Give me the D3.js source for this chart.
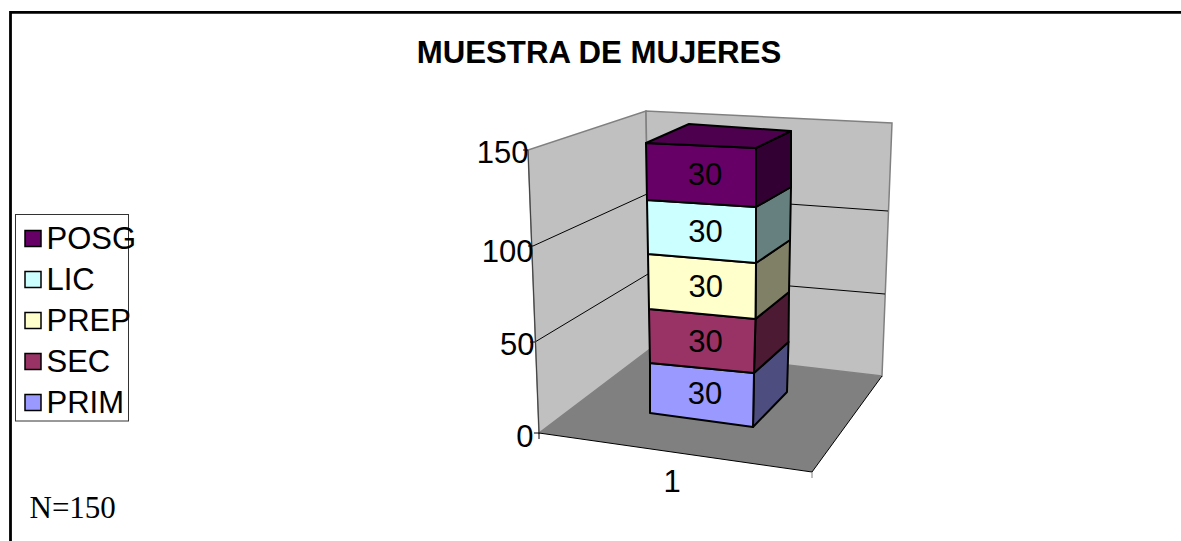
<!DOCTYPE html>
<html>
<head>
<meta charset="utf-8">
<title>Muestra de mujeres</title>
<script src="https://cdnjs.cloudflare.com/ajax/libs/d3/7.8.5/d3.min.js"></script>
<style>
  html, body { margin: 0; padding: 0; background: #fff; }
  svg { display: block; }
  text { font-family: "Liberation Sans", Arial, sans-serif; fill: #000; }
</style>
</head>
<body>
<svg id="chart" width="1181" height="541"></svg>
<script>
// Chart content
const titleText = "MUESTRA DE MUJERES";
const noteText = "N=150";
const categories = ["1"];
const seriesNames = ["PRIM", "SEC", "PREP", "LIC", "POSG"];
const seriesValues = [30, 30, 30, 30, 30];
const axisTicks = [0, 50, 100, 150];

const faceColors = ["#9999ff", "#993366", "#ffffcc", "#ccffff", "#660066"];
const sideColors = ["#4d4d80", "#4d1a33", "#808066", "#668080", "#330033"];
const topColor = "#4d004d";

const svg = d3.select("#chart");

// Each vertical edge of the 3D box is a value -> [x, y] scale. The array interpolator
// reuses its output, so every call hands back a fresh copy.
const edge = (domain, range) => {
  const scale = d3.scaleLinear().domain(domain).range(range);
  return v => Array.from(scale(v));
};
const wallFrontLeft = edge(axisTicks, [[539, 433], [535, 342], [533, 246], [528, 150]]);
const wallBackCorner = edge(axisTicks, [[650, 349], [648, 274], [647, 194], [646, 111]]);
const wallBackRight = edge(axisTicks, [[882, 376], [885, 294], [888, 211], [892, 123]]);
const floorFrontRight = [812, 472];

// Tick label anchors follow the value axis with their own offsets.
const tickLabelPos = edge(axisTicks, [[533.5, 446.5], [534.5, 354.5], [533.5, 261.5], [528.5, 162.5]]);

// Bar edges, calibrated on the cumulative stack values.
const stackEnds = Array.from(d3.cumsum(seriesValues));
const stackStops = [0, ...stackEnds];
const barFrontLeft = edge(stackStops, [[650, 413], [650, 363], [649, 309], [648, 254], [647, 200], [646, 143]]);
const barFrontRight = edge(stackStops, [[753, 427], [754, 373], [755.5, 319], [756, 263], [756, 207], [756, 148]]);
const barBackRight = edge(stackStops, [[787, 392], [788.5, 342], [789, 292], [790, 240], [791, 187], [791, 131]]);
const barBackLeftTop = [689, 124];

const poly = pts => d3.line()(pts) + "Z";
const maxValue = axisTicks[axisTicks.length - 1];
const labelSize = 31;

// Page frame: open on the right and bottom
svg.append("path")
  .attr("d", d3.line()([[10.5, 541], [10.5, 12.3], [1181, 12.3]]))
  .attr("fill", "none").attr("stroke", "#000").attr("stroke-width", 2.8);

// Title
svg.append("text").attr("x", 599).attr("y", 63)
  .attr("text-anchor", "middle").attr("font-weight", "bold").attr("font-size", 31.2)
  .text(titleText);

// Walls
const wallStroke = "#808080";
svg.append("path")
  .attr("d", poly([wallFrontLeft(0), wallFrontLeft(maxValue), wallBackCorner(maxValue), wallBackCorner(0)]))
  .attr("fill", "#c0c0c0").attr("stroke", wallStroke).attr("stroke-width", 1.5);
svg.append("path")
  .attr("d", poly([wallBackCorner(0), wallBackCorner(maxValue), wallBackRight(maxValue), wallBackRight(0)]))
  .attr("fill", "#c0c0c0").attr("stroke", wallStroke).attr("stroke-width", 1.5);

// Floor
svg.append("path")
  .attr("d", poly([wallFrontLeft(0), wallBackCorner(0), wallBackRight(0), floorFrontRight]))
  .attr("fill", "#808080");

// Gridlines on both walls
const gridTicks = axisTicks.slice(1, -1);
svg.append("g").selectAll("path").data(gridTicks).join("path")
  .attr("d", t => d3.line()([wallFrontLeft(t), wallBackCorner(t), wallBackRight(t)]))
  .attr("fill", "none").attr("stroke", "#000").attr("stroke-width", 1);

// Axis lines: value axis edge and the two front floor edges
svg.append("path")
  .attr("d", d3.line()([wallFrontLeft(maxValue), wallFrontLeft(0)]))
  .attr("fill", "none").attr("stroke", "#404040").attr("stroke-width", 1);
svg.append("path")
  .attr("d", d3.line()([wallFrontLeft(0), floorFrontRight, wallBackRight(0)]))
  .attr("fill", "none").attr("stroke", "#000").attr("stroke-width", 1);

// Value axis ticks and labels
const axisG = svg.append("g");
axisG.selectAll("line").data(axisTicks).join("line")
  .attr("x1", t => wallFrontLeft(t)[0] - 5).attr("y1", t => wallFrontLeft(t)[1])
  .attr("x2", t => wallFrontLeft(t)[0]).attr("y2", t => wallFrontLeft(t)[1])
  .attr("stroke", "#000");
axisG.selectAll("text").data(axisTicks).join("text")
  .attr("x", t => tickLabelPos(t)[0])
  .attr("y", t => tickLabelPos(t)[1])
  .attr("text-anchor", "end").attr("font-size", labelSize)
  .text(t => t);

// Category axis tick marks and label
svg.append("line")
  .attr("x1", wallFrontLeft(0)[0]).attr("y1", wallFrontLeft(0)[1])
  .attr("x2", wallFrontLeft(0)[0]).attr("y2", wallFrontLeft(0)[1] + 6).attr("stroke", "#000");
svg.append("line")
  .attr("x1", floorFrontRight[0]).attr("y1", floorFrontRight[1])
  .attr("x2", floorFrontRight[0]).attr("y2", floorFrontRight[1] + 6).attr("stroke", "#808080");
svg.selectAll("text.cat").data(categories).join("text").attr("class", "cat")
  .attr("x", 672).attr("y", 492)
  .attr("text-anchor", "middle").attr("font-size", labelSize)
  .text(d => d);

// Stacked column: one box per series, bottom to top
const stack = seriesValues.map((v, i) => ({ i, v, y0: stackStops[i], y1: stackEnds[i] }));
const boxes = svg.append("g").selectAll("g").data(stack).join("g");
const boxStroke = sel => sel.attr("stroke", "#000").attr("stroke-width", 2).attr("stroke-linejoin", "round");
boxes.append("path")
  .attr("d", d => poly([barFrontRight(d.y0), barFrontRight(d.y1), barBackRight(d.y1), barBackRight(d.y0)]))
  .attr("fill", d => sideColors[d.i]).call(boxStroke);
boxes.append("path")
  .attr("d", d => poly([barFrontLeft(d.y0), barFrontLeft(d.y1), barFrontRight(d.y1), barFrontRight(d.y0)]))
  .attr("fill", d => faceColors[d.i]).call(boxStroke);
boxes.append("text")
  .attr("x", d => (barFrontLeft(d.y0)[0] + barFrontRight(d.y0)[0]) / 2 + 3.5)
  .attr("y", d => (barFrontLeft(d.y0)[1] + barFrontRight(d.y1)[1]) / 2 + 11)
  .attr("text-anchor", "middle").attr("font-size", labelSize)
  .text(d => d.v);

// Lid of the column
svg.append("path")
  .attr("d", poly([barFrontLeft(maxValue), barBackLeftTop, barBackRight(maxValue), barFrontRight(maxValue)]))
  .attr("fill", topColor).call(boxStroke);

// Legend, top entry first
const legend = svg.append("g");
legend.append("rect")
  .attr("x", 15.5).attr("y", 214.5).attr("width", 113).attr("height", 206.5)
  .attr("fill", "#fff").attr("stroke", "#333").attr("stroke-width", 1);
const legendY = d3.scalePoint().domain(d3.reverse(seriesNames)).range([238.5, 402.5]);
const entries = legend.selectAll("g").data(seriesNames).join("g")
  .attr("transform", d => `translate(0,${legendY(d)})`);
entries.append("rect")
  .attr("x", 25).attr("y", -8).attr("width", 16).attr("height", 16)
  .attr("fill", (d, i) => faceColors[i]).attr("stroke", "#000").attr("stroke-width", 1.5);
entries.append("text").attr("x", 46.5).attr("y", 10).attr("font-size", labelSize).text(d => d);

// Sample size note
svg.append("text").attr("x", 29.5).attr("y", 518)
  .style("font-family", '"Liberation Serif", "Times New Roman", serif')
  .attr("font-size", 31)
  .text(noteText);
</script>
</body>
</html>
